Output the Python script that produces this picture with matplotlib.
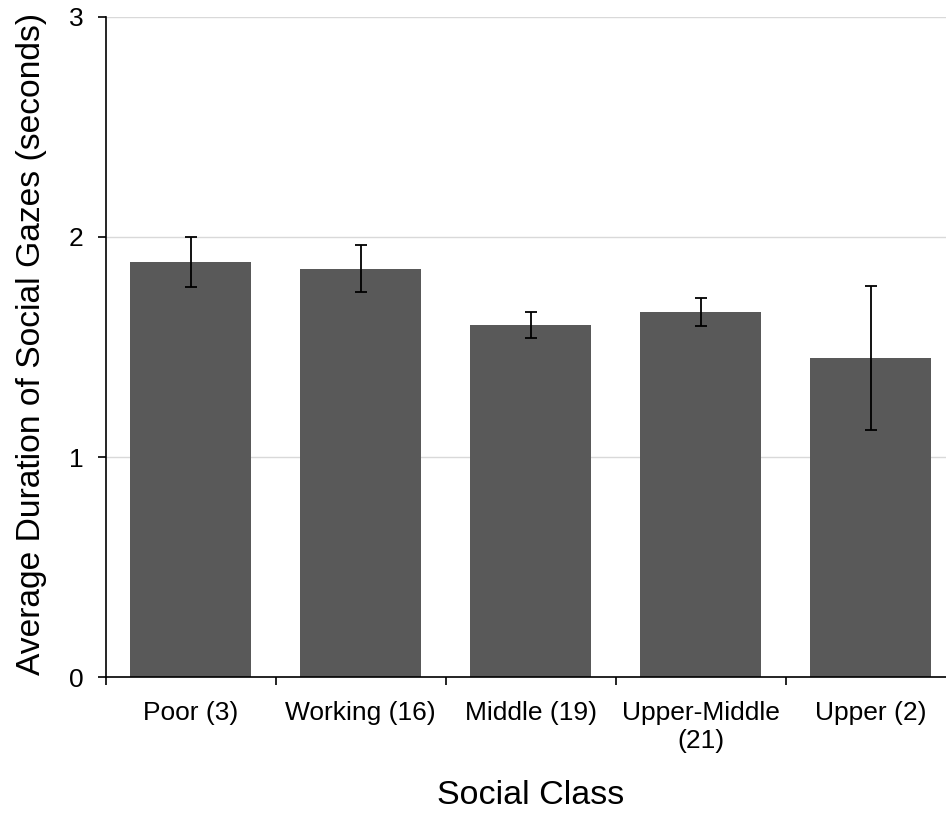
import numpy as np
import matplotlib
matplotlib.use("Agg")
from matplotlib import pyplot as plt

plt.rcParams["font.family"] = ["Liberation Sans", "DejaVu Sans"]

# bar heights and error bars
classes = ["Poor (3)", "Working (16)", "Middle (19)", "Upper-Middle\n(21)", "Upper (2)"]
mean_gaze = [1.885, 1.855, 1.600, 1.660, 1.450]
err_gaze = [0.114, 0.107, 0.061, 0.064, 0.326]

fig = plt.figure(figsize=(9.46, 8.13), dpi=100)
ax = fig.add_axes([105.7 / 946, 136 / 813, 850 / 946, 660 / 813])

x = np.arange(len(classes))
ax.bar(x, mean_gaze, width=0.71, color="#595959", zorder=2)
ax.errorbar(x, mean_gaze, yerr=err_gaze, fmt="none", ecolor="black",
            elinewidth=1.3, capsize=4.5, capthick=1.3, zorder=3)

ax.set_xlim(-0.5, len(classes) - 0.5)
ax.set_ylim(0, 3)
ax.set_yticks([0, 1, 2, 3])
ax.yaxis.grid(True, color="#d9d9d9", lw=1.0, zorder=0)
ax.set_axisbelow(True)

ax.set_xticks(x)
ax.set_xticklabels(classes, fontsize=19, linespacing=1.25)
ax.set_xticks(np.arange(-0.5, len(classes)), minor=True)
ax.tick_params(axis="x", which="major", length=0, pad=17)
ax.tick_params(axis="x", which="minor", length=6, width=1.2, direction="out")
ax.tick_params(axis="y", length=6, width=1.2, direction="out", pad=10, labelsize=19)

for side in ["top", "right"]:
    ax.spines[side].set_visible(False)
ax.spines["left"].set_linewidth(1.2)
ax.spines["bottom"].set_linewidth(1.2)

ax.set_xlabel("Social Class", fontsize=24.5, labelpad=19)
ax.set_ylabel("Average Duration of Social Gazes (seconds)", fontsize=24.2)
ax.yaxis.set_label_coords(-0.069, 0.505)

fig.savefig("out.png", dpi=100)
